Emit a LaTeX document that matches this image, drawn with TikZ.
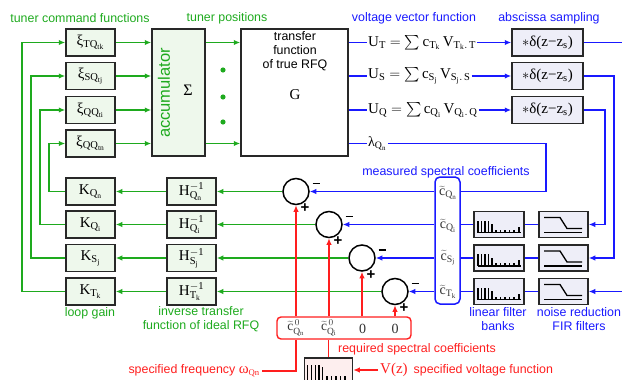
\documentclass[tikz,border=0pt]{standalone}
\usepackage{fontspec}
\usepackage{graphicx}
\setmainfont{Liberation Serif}
\setsansfont{Liberation Sans}
\usetikzlibrary{arrows.meta,calc}
\definecolor{gr}{RGB}{30,170,30}
\definecolor{blu}{RGB}{25,25,255}
\definecolor{rd}{RGB}{255,30,30}
\definecolor{gfill}{RGB}{238,248,236}
\definecolor{bfill}{RGB}{238,238,248}
\definecolor{rfill}{RGB}{253,238,238}
\definecolor{bord}{RGB}{40,40,40}
\newcommand{\bigsum}{\mathop{\vcenter{\hbox{\scalebox{1.45}{$\sum$}}}}}
\begin{document}
\begin{tikzpicture}[x=1pt,y=-1pt,
  >={Latex[length=6.5pt,width=5.5pt]},
  box/.style={draw=bord,line width=1.5pt,minimum width=49pt,minimum height=27pt,inner sep=0pt,font=\fontsize{15}{17}\selectfont},
  gbox/.style={box,fill=gfill},
  bbox/.style={box,fill=bfill,minimum width=50pt,minimum height=26pt},
  gl/.style={gr,line width=1.6pt},
  bl/.style={blu,line width=1.6pt},
  rl/.style={rd,line width=1.4pt},
  lab/.style={font=\sffamily\fontsize{12.4}{14}\selectfont,inner sep=0pt,align=center},
  sumc/.style={circle,draw=black,line width=1.5pt,minimum size=26pt,inner sep=0pt,fill=white},
  sgn/.style={font=\sffamily\bfseries\fontsize{15}{15}\selectfont,inner sep=0pt},
  ctl/.style={font=\fontsize{14}{14}\selectfont,inner sep=0pt,text=black!80}
]
\useasboundingbox (0,0) rectangle (622,380);
% row coordinates
\coordinate (L1) at (22,0);
\coordinate (L2) at (31,0);
\coordinate (L3) at (40,0);
\coordinate (L4) at (49,0);
\coordinate (R1) at (605,0);
\coordinate (R2) at (614,0);
\coordinate (R3) at (626,0);
\coordinate (Y1) at (0,191.5);
\coordinate (lamc) at (546,143.5);

% top labels
\node[lab,gr] (t1) at (80,18) {tuner command functions};
\node[lab,gr] (t2) at (227,18) {tuner positions};
\node[lab,blu] (t3) at (414,18) {voltage vector function};
\node[lab,blu] (t4) at (549,18) {abscissa sampling};

% xi boxes
\node[gbox] (x1) at (90.5,42.5) {ξ$_{\mathrm{TQ}_{\mathrm{tk}}}$};
\node[gbox] (x2) at (90.5,76) {ξ$_{\mathrm{SQ}_{\mathrm{tj}}}$};
\node[gbox] (x3) at (90.5,110) {ξ$_{\mathrm{QQ}_{\mathrm{ti}}}$};
\node[gbox] (x4) at (90.5,143.5) {ξ$_{\mathrm{QQ}_{\mathrm{tn}}}$};

% accumulator
\node[draw=bord,line width=1.5pt,fill=gfill,minimum width=53pt,minimum height=127pt,inner sep=0pt] (acc) at (178.5,92.5) {};
\node[gr,rotate=90,font=\sffamily\fontsize{16.5}{17}\selectfont,inner sep=0pt] (acct) at (164,93) {accumulator};
\node[font=\fontsize{16}{16}\selectfont,inner sep=0pt] (sig) at (188,90) {Σ};

% G box
\node[draw=bord,line width=1.5pt,fill=white,minimum width=107pt,minimum height=127pt,inner sep=0pt] (G) at (294.5,92.5) {};
\node[lab] (gt) at (295,51) {transfer\\function\\of true RFQ};
\node[font=\fontsize{15}{15}\selectfont,inner sep=0pt] (gg) at (295,95) {G};
\fill[gr] (223,70) circle (2.6);
\fill[gr] (223,97) circle (2.6);
\fill[gr] (223,122) circle (2.6);

% equations
\node[anchor=west,inner sep=1pt,font=\fontsize{15}{17}\selectfont] (eT) at (367,42.5) {$\mathrm{U_T} = \bigsum \mathrm{c_{T_k}\,V_{T_k.\,T}}$};
\node[anchor=west,inner sep=1pt,font=\fontsize{15}{17}\selectfont] (eS) at (367,76) {$\mathrm{U_S} = \bigsum \mathrm{c_{S_j}\,V_{S_j.\,S}}$};
\node[anchor=west,inner sep=1pt,font=\fontsize{15}{17}\selectfont] (eQ) at (367,110) {$\mathrm{U_Q} = \bigsum \mathrm{c_{Q_i}\,V_{Q_i.\,Q}}$};
\node[anchor=west,inner sep=1pt,font=\fontsize{14}{16}\selectfont] (lam) at (367,143.5) {λ$_{\mathrm{Q_n}}$};

% abscissa boxes
\node[box,fill=bfill,minimum width=71pt] (aT) at (547.5,42.5) {$\ast$δ(z−z$_{\mathrm{s}}$)};
\node[box,fill=bfill,minimum width=71pt] (aS) at (547.5,76) {$\ast$δ(z−z$_{\mathrm{s}}$)};
\node[box,fill=bfill,minimum width=71pt] (aQ) at (547.5,110) {$\ast$δ(z−z$_{\mathrm{s}}$)};

% K and H boxes
\node[gbox] (k1) at (90.5,191.5) {$\mathrm{K_{Q_n}}$};
\node[gbox] (k2) at (90.5,224.5) {$\mathrm{K_{Q_i}}$};
\node[gbox] (k3) at (90.5,258) {$\mathrm{K_{S_j}}$};
\node[gbox] (k4) at (90.5,291.5) {$\mathrm{K_{T_k}}$};
\node[gbox] (h1) at (191.5,191.5) {$\mathrm{H^{-1}_{Q_n}}$};
\node[gbox] (h2) at (191.5,224.5) {$\mathrm{H^{-1}_{Q_i}}$};
\node[gbox] (h3) at (191.5,258) {$\mathrm{H^{-1}_{S_j}}$};
\node[gbox] (h4) at (191.5,291.5) {$\mathrm{H^{-1}_{T_k}}$};

% summing junctions
\node[sumc] (s1) at (296,191.5) {};
\node[sumc] (s2) at (329,224.5) {};
\node[sumc] (s3) at (362,258) {};
\node[sumc] (s4) at (395,291.5) {};
\foreach \s in {s1,s2,s3,s4}{
  \node[sgn] at ($(\s)+(20,-8)$) {\rule{7pt}{1.8pt}};
  \node[sgn] at ($(\s)+(9,17)$) {+};
}

% measured coefficient box
\node[draw=blu,line width=1.5pt,rounded corners=5pt,fill=white,minimum width=25pt,minimum height=127pt,inner sep=0pt] (cb) at (447.5,240.5) {};
\node[ctl] (cq1) at (448,192.5) {$\widetilde{\mathrm{c}}_{\mathrm{Q_n}}$};
\node[ctl] (cq2) at (448,225.5) {$\widetilde{\mathrm{c}}_{\mathrm{Q_i}}$};
\node[ctl] (cq3) at (448,258) {$\widetilde{\mathrm{c}}_{\mathrm{S_j}}$};
\node[ctl] (cq4) at (448,291.5) {$\widetilde{\mathrm{c}}_{\mathrm{T_k}}$};

% filter banks and FIR
\node[bbox] (f2) at (499,224.5) {};
\node[bbox] (f3) at (499,258) {};
\node[bbox] (f4) at (499,291.5) {};
\node[bbox,minimum width=49pt] (r2) at (563.5,224.5) {};
\node[bbox,minimum width=49pt] (r3) at (563.5,258) {};
\node[bbox,minimum width=49pt] (r4) at (563.5,291.5) {};
\foreach \y in {224.5,258,291.5}{
  \begin{scope}[shift={(499,\y)}]
    \draw[line width=1.1pt] (-21,8) -- (22,8);
    \foreach \xx/\hh in {-21/12,-17.5/12,-14/12,-10.5/12,-7/8.5,-3/3,1.5/3,6/3,10.5/3,15/3,20/6}
      \draw[line width=1.1pt] (\xx,8) -- (\xx,8-\hh);
  \end{scope}
  \begin{scope}[shift={(563.5,\y)}]
    \draw[line width=1.3pt] (-19.5,-7) -- (-3.5,-7) -- (3.5,4) -- (18.5,4);
    \draw[line width=1.3pt] (-19.5,8) -- (18.5,8);
  \end{scope}
}

% required coefficients box
\node[draw=rd,line width=1.4pt,rounded corners=4pt,fill=white,minimum width=134pt,minimum height=22pt,inner sep=0pt] (rb) at (344,328) {};
\node[ctl,font=\fontsize{13.5}{14}\selectfont] (z1) at (296,328) {$\widetilde{\mathrm{c}}^{\,0}_{\mathrm{Q_n}}$};
\node[ctl,font=\fontsize{13.5}{14}\selectfont] (z2) at (329,328) {$\widetilde{\mathrm{c}}^{\,0}_{\mathrm{Q_i}}$};
\node[ctl,font=\fontsize{14}{14}\selectfont] (z3) at (362.5,329) {0};
\node[ctl,font=\fontsize{14}{14}\selectfont] (z4) at (395,329) {0};

% spectrum box at bottom
\node[draw=bord,line width=1.5pt,fill=rfill,minimum width=48pt,minimum height=34pt,inner sep=0pt] (sp) at (328.5,375) {};
\begin{scope}[shift={(328.5,358)}]
  \foreach \xx/\tt in {-21/7,-17.2/7,-13.4/7,-9.6/7,-5.8/9}
    \draw[line width=1.2pt] (\xx,\tt) -- (\xx,30);
  \foreach \xx in {-1.5,3,7.5,12,16.5}
    \draw[line width=1.2pt] (\xx,18) -- (\xx,30);
\end{scope}

% labels
\node[lab,blu] (ml) at (446,172) {measured spectral coefficients};
\node[lab,rd] (rl) at (417,349) {required spectral coefficients};
\node[lab,blu] (lfb) at (498,319.5) {linear filter\\banks};
\node[lab,blu] (nrf) at (579,319.5) {noise reduction\\FIR filters};
\node[lab,gr] (lg) at (90,313) {loop gain};
\node[lab,gr] (itf) at (201,319.5) {inverse transfer\\function of ideal RFQ};
\node[lab,rd,anchor=east,inner sep=2pt] (om) at (262,371) {specified frequency {\rmfamily\fontsize{15}{15}\selectfont ω}$_{\mathrm{Qn}}$};
\node[anchor=west,rd,inner sep=2pt] (vz) at (378,370) {\fontsize{15}{15}\selectfont V(z)\hspace{6pt}\sffamily\fontsize{12.4}{14}\selectfont specified voltage function};

% green connectors
\foreach \i in {1,2,3,4}{
  \draw[gl,->] (x\i.east) -- (acc.west |- x\i.east);
  \draw[gl,->] (h\i.west) -- (k\i.east);
  \draw[gl,->] (s\i.west) -- (h\i.east);
}
\draw[gl,->] (acc.east |- x1.east) -- (G.west |- x1.east);
\draw[gl,->] (acc.east |- x4.east) -- (G.west |- x4.east);
\draw[gl,->] (k1.west) -| (L4 |- x4.west) -- (x4.west);
\draw[gl,->] (k2.west) -| (L3 |- x3.west) -- (x3.west);
\draw[gl,->] (k3.west) -| (L2 |- x2.west) -- (x2.west);
\draw[gl,->] (k4.west) -| (L1 |- x1.west) -- (x1.west);

% blue connectors
\draw[bl] (G.east |- eT.west) -- (eT.west);
\draw[bl] (G.east |- eS.west) -- (eS.west);
\draw[bl] (G.east |- eQ.west) -- (eQ.west);
\draw[bl] (G.east |- lam.west) -- (lam.west);
\draw[bl,->] (eT.east) -- (aT.west);
\draw[bl,->] (eS.east) -- (aS.west);
\draw[bl,->] (eQ.east) -- (aQ.west);
\draw[bl] (lam.east) -- (lamc) -- (lamc |- Y1) -- (cb.east |- Y1);
\draw[bl] (aT.east) -- (aT.east -| R3);
\draw[bl,->] (aQ.east) -| (R1 |- r2.east) -- (r2.east);
\draw[bl,->] (aS.east) -| (R2 |- r3.east) -- (r3.east);
\draw[bl,->] (R3 |- r4.east) -- (r4.east);
\foreach \i in {2,3,4}{
  \draw[bl] (r\i.west) -- (f\i.east);
  \draw[bl] (f\i.west) -- (cb.east |- f\i.west);
}
\foreach \i in {1,2,3,4}{
  \draw[bl,->] (cb.west |- s\i) -- (s\i.east);
}

% red connectors
\foreach \i in {1,2,3,4}{
  \draw[rl,->] (s\i |- rb.north) -- (s\i.south);
}
\draw[rl] (sp.north) -- (sp.north |- rb.south);
\coordinate (omc) at (296,371);
\draw[rl] (om.east) -- (omc) -- (omc |- rb.south);
\draw[rl,->] (vz.west) -- (sp.east |- vz.west);
\end{tikzpicture}
\end{document}
